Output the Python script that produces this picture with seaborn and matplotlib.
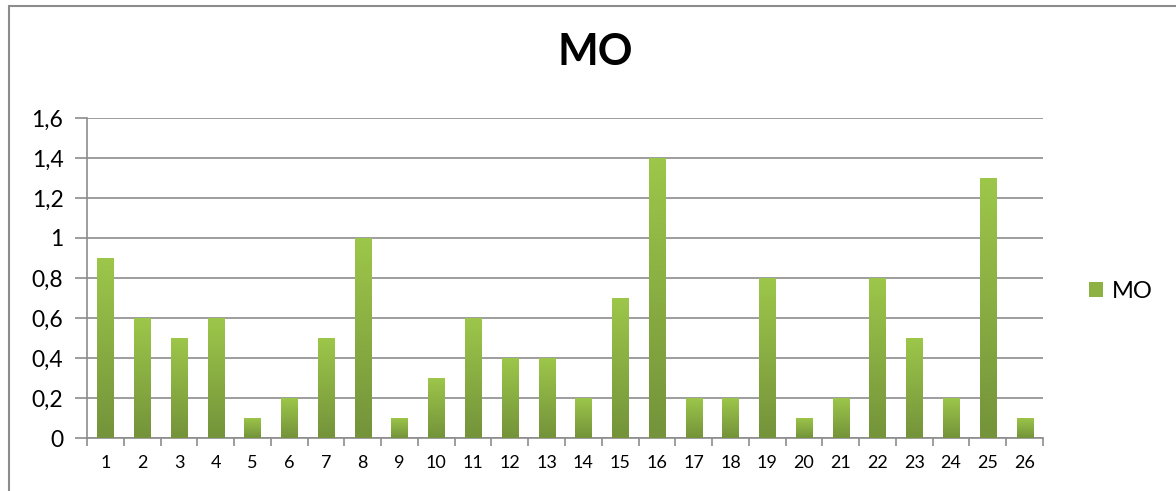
import numpy as np
import pandas as pd
import matplotlib
matplotlib.use("Agg")
import matplotlib.pyplot as plt
import seaborn as sns
from matplotlib.colors import LinearSegmentedColormap
from matplotlib.patches import Rectangle
from matplotlib.ticker import FuncFormatter, MultipleLocator

# Data
samples = [str(i) for i in range(1, 27)]
mo_values = [0.9, 0.6, 0.5, 0.6, 0.1, 0.2, 0.5, 1.0, 0.1, 0.3, 0.6, 0.4, 0.4,
             0.2, 0.7, 1.4, 0.2, 0.2, 0.8, 0.1, 0.2, 0.8, 0.5, 0.2, 1.3, 0.1]
series_name = "MO"

df = pd.DataFrame({"sample": samples, "value": mo_values})

sns.set_theme(style="white")
plt.rcParams["font.family"] = ["Lato", "DejaVu Sans"]
plt.rcParams["text.color"] = "black"

fig = plt.figure(figsize=(11.76, 4.91), dpi=100)
ax = fig.add_axes([0.0740, 0.1079, 0.8129, 0.6518])

top_green = "#9DC74A"
bottom_green = "#74933A"
sns.barplot(data=df, x="sample", y="value", color=top_green, width=0.44,
            saturation=1, ax=ax, zorder=3)

# Vertical gradient fill for each bar
cmap = LinearSegmentedColormap.from_list("bar_grad", [bottom_green, top_green])
grad = np.linspace(0, 1, 256).reshape(-1, 1)
for patch in ax.patches:
    x0, y0 = patch.get_x(), patch.get_y()
    w, h = patch.get_width(), patch.get_height()
    patch.set_facecolor("none")
    patch.set_edgecolor("none")
    im = ax.imshow(grad, cmap=cmap, origin="lower", aspect="auto",
                   extent=[x0, x0 + w, y0, y0 + h], zorder=3)
    im.set_clip_path(patch)

ax.set_xlim(-0.5, len(samples) - 0.5)
ax.set_ylim(0, 1.6)
ax.yaxis.set_major_locator(MultipleLocator(0.2))
ax.yaxis.set_major_formatter(
    FuncFormatter(lambda v, _: ("%g" % round(v, 1)).replace(".", ",")))

ax.grid(axis="y", color="#8C8C8C", linewidth=1.2, zorder=0)
ax.grid(axis="x", visible=False)
for side in ["top", "right"]:
    ax.spines[side].set_visible(False)
for side in ["left", "bottom"]:
    ax.spines[side].set_color("#8C8C8C")
    ax.spines[side].set_linewidth(1.2)
ax.set_axisbelow(True)

ax.set_xlabel("")
ax.set_ylabel("")
ax.tick_params(axis="y", labelsize=16.5, length=9, width=1.2, color="#8C8C8C",
               left=True, pad=8, labelcolor="black")
ax.tick_params(axis="x", labelsize=13, length=0, pad=12, labelcolor="black")
# Category boundary ticks on the x axis
ax.set_xticks(np.arange(-0.5, len(samples)), minor=True)
ax.tick_params(axis="x", which="minor", length=6, width=1.2, color="#8C8C8C",
               bottom=True)

fig.suptitle(series_name, x=0.506, y=0.935, fontsize=31, fontweight="bold",
             color="black")

# Legend
legend_handle = Rectangle((0, 0), 1, 1, facecolor="#8DB142", edgecolor="none")
fig.legend([legend_handle], [series_name], loc="center left",
           bbox_to_anchor=(0.908, 0.407), frameon=False, fontsize=17,
           handlelength=0.6, handleheight=0.6, handletextpad=0.35,
           labelcolor="black")

# Chart frame
fig.patches.append(Rectangle((9 / 1176, -0.1), 1.2, 1 - 6 / 491 + 0.1,
                             transform=fig.transFigure, fill=False,
                             edgecolor="#8C8C8C", linewidth=1.5))

fig.savefig("out.png", dpi=100)
